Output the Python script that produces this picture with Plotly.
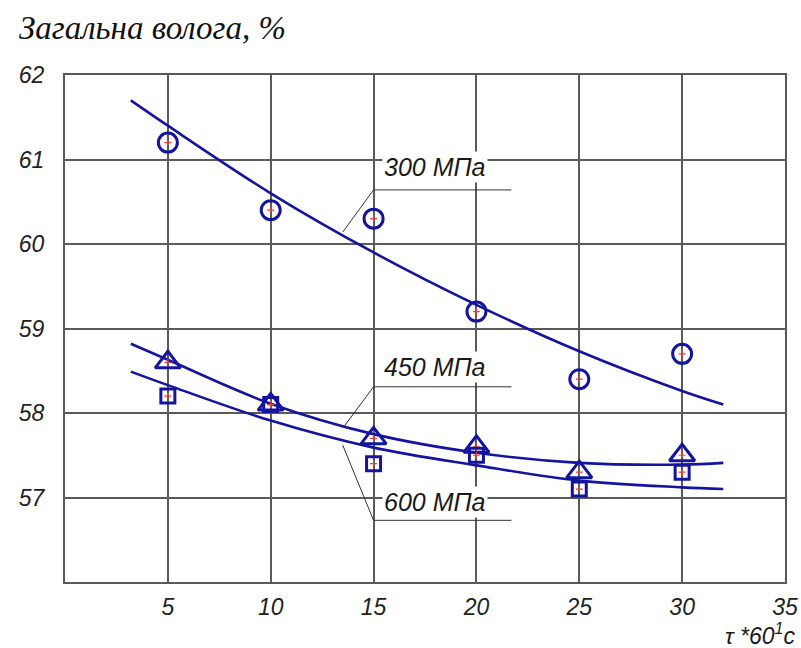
import plotly.graph_objects as go

# measured points
x_pts = [5, 10, 15, 20, 25, 30]
y_300 = [61.2, 60.4, 60.3, 59.2, 58.4, 58.7]
y_450 = [58.6, 58.1, 57.7, 57.6, 57.3, 57.5]
y_600 = [58.2, 58.1, 57.4, 57.5, 57.1, 57.3]

# trend curves
x_curve = [3.2, 5, 10, 15, 20, 25, 30, 32]
c_300 = [61.70, 61.40, 60.60, 59.90, 59.28, 58.73, 58.26, 58.10]
c_450 = [58.82, 58.63, 58.11, 57.75, 57.53, 57.41, 57.39, 57.41]
c_600 = [58.49, 58.33, 57.91, 57.59, 57.38, 57.20, 57.12, 57.10]

x_ticks = [5, 10, 15, 20, 25, 30, 35]
y_ticks = [57, 58, 59, 60, 61, 62]

labels = ["300 МПа", "450 МПа", "600 МПа"]
label_y = [60.91, 58.54, 56.95]
shelf_y = [60.64, 58.31, 56.73]
leader_end = [(13.5, 60.14), (13.5, 57.82), (13.5, 57.62)]

BLUE = "#1414a0"
RED = "#e8403a"
GRID = "#5a5a5a"
FAM = "Liberation Sans Narrow, Liberation Sans, Arial"
TICKFONT = dict(family=FAM, size=23, color="#222222", style="italic")

fig = go.Figure()

for cy in (c_300, c_450, c_600):
    fig.add_trace(go.Scatter(x=x_curve, y=cy, mode="lines", line_shape="spline",
                             line=dict(color=BLUE, width=2.6), hoverinfo="skip",
                             showlegend=False))

for ys, sym, size in ((y_300, "circle-open", 19), (y_450, "triangle-up-open", 22),
                      (y_600, "square-open", 14)):
    fig.add_trace(go.Scatter(x=x_pts, y=ys, mode="markers", showlegend=False,
                             marker=dict(symbol=sym, size=size, color=BLUE,
                                         line=dict(color=BLUE, width=3))))
    fig.add_trace(go.Scatter(x=x_pts, y=ys, mode="markers", showlegend=False,
                             marker=dict(symbol="cross-thin-open", size=5, color=RED,
                                         line=dict(color=RED, width=1.2))))

for lab, ly, sy, (ex, ey) in zip(labels, label_y, shelf_y, leader_end):
    fig.add_shape(type="line", x0=15, x1=21.7, y0=sy, y1=sy,
                  line=dict(color="#333333", width=1))
    fig.add_shape(type="line", x0=15, x1=ex, y0=sy, y1=ey,
                  line=dict(color="#333333", width=1))
    fig.add_annotation(x=18.0, y=ly, text=lab, showarrow=False, bgcolor="white",
                       font=dict(family=FAM, size=25, color="#1a1a1a", style="italic"))

fig.add_annotation(xref="paper", yref="paper", x=0, y=1, xshift=-48, yshift=47,
                   xanchor="left", yanchor="middle", showarrow=False,
                   text="Загальна волога, %",
                   font=dict(family="Liberation Serif, Times New Roman", size=33,
                             color="#111111", style="italic"))
fig.add_annotation(xref="paper", yref="paper", x=1, y=0, xshift=12, yshift=-52,
                   xanchor="right", yanchor="middle", showarrow=False,
                   text="τ *60<sup>1</sup>c",
                   font=dict(family=FAM, size=23, color="#1a1a1a", style="italic"))

fig.update_xaxes(range=[0, 35], tickvals=x_ticks, ticktext=[str(v) for v in x_ticks],
                 showgrid=True, gridcolor=GRID, gridwidth=1.6, zeroline=False,
                 showline=True, linecolor=GRID, linewidth=2, mirror=True,
                 ticks="", tickfont=TICKFONT, ticklabelstandoff=3)
fig.update_yaxes(range=[56, 62], tickvals=y_ticks, ticktext=[str(v) for v in y_ticks],
                 showgrid=True, gridcolor=GRID, gridwidth=1.6, zeroline=False,
                 showline=True, linecolor=GRID, linewidth=2, mirror=True,
                 ticks="", tickfont=TICKFONT, ticklabelstandoff=14)

fig.update_layout(width=801, height=648, plot_bgcolor="white", paper_bgcolor="white",
                  margin=dict(l=65, r=16, t=75, b=66, autoexpand=False),
                  showlegend=False)

fig.write_html("out.html", config={"displayModeBar": False},
               post_script="document.body.style.margin='0';document.body.style.padding='0';")
